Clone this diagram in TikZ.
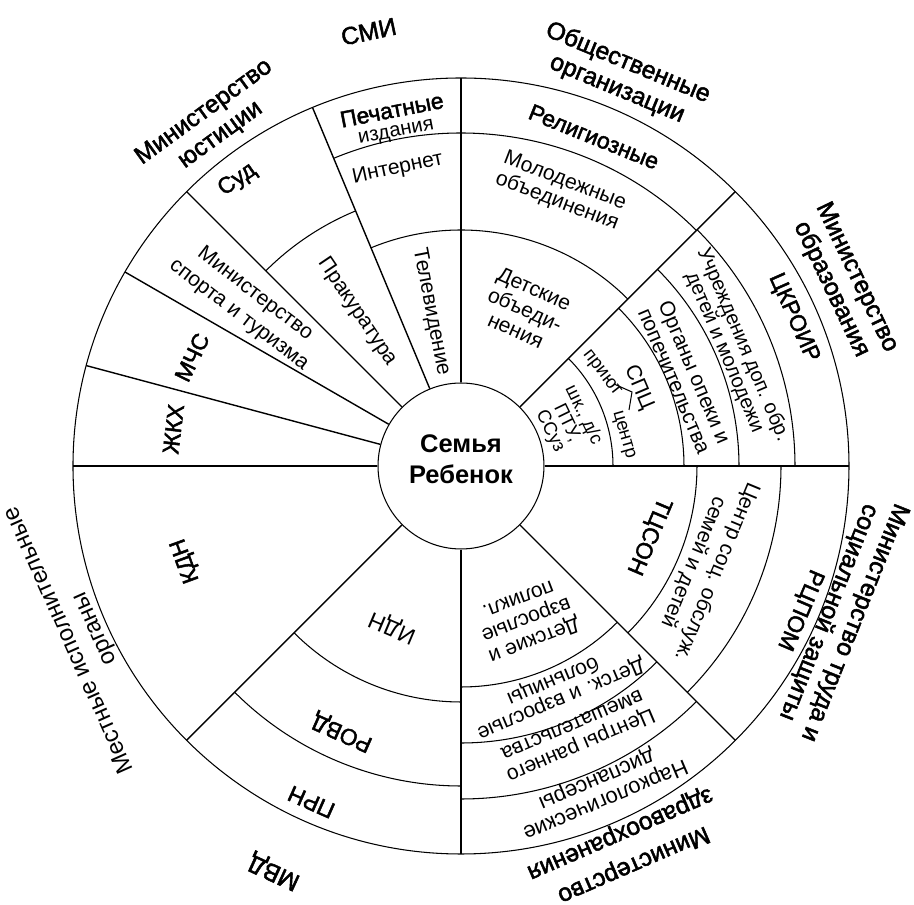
\documentclass[tikz,border=0pt]{standalone}
\usepackage{fontspec}
\setmainfont{Liberation Sans}
\newfontfamily\medfont{Liberation Sans}[FakeBold=2]
\newcommand{\fthin}{\fontsize{12}{12.5}\selectfont}
\newcommand{\fsmall}{\fontsize{10.5}{10.5}\selectfont}
\newcommand{\fmed}{\medfont\fontsize{13}{13.5}\selectfont}
\newcommand{\fouter}{\medfont\fontsize{14}{16}\selectfont}
\newcommand{\fcore}{\bfseries\fontsize{14.5}{17.5}\selectfont}

\begin{document}
\begin{tikzpicture}[x=0.02cm,y=0.02cm,
    lbl/.style={align=center,inner sep=0pt,font=\fthin},
    big/.style={lbl,font=\fmed},
    outer/.style={lbl,font=\fouter},
    tiny/.style={lbl,font=\fsmall},
    spoke/.style={line width=0.8pt},
    ring/.style={line width=0.6pt}]
  \useasboundingbox (-461,-439) rectangle (453,466);

  \node[circle,draw,line width=0.6pt,minimum size=3.32cm,inner sep=0pt] (fam) at (0,0) {};
  \node[lbl,font=\fcore] (famtxt) at (0,7) {Семья\\Ребенок};

  \draw[ring] (0,0) circle[radius=388];

  \draw[spoke] (fam.0) -- (0:388);
  \draw[spoke] (fam.45) -- (45:388);
  \draw[spoke] (fam.90) -- (90:388);
  \draw[spoke] (fam.112.5) -- (112.5:388);
  \draw[spoke] (fam.135) -- (135:388);
  \draw[spoke] (fam.150) -- (150:388);
  \draw[spoke] (fam.165) -- (165:388);
  \draw[spoke] (fam.180) -- (180:388);
  \draw[spoke] (fam.225) -- (225:388);
  \draw[spoke] (fam.270) -- (270:388);
  \draw[spoke] (fam.315) -- (315:388);

  \draw[ring] (45:236) arc[start angle=45,end angle=112.5,radius=236];
  \draw[ring] (45:333) arc[start angle=45,end angle=112.5,radius=333];
  \draw[ring] (112.5:276) arc[start angle=112.5,end angle=135,radius=276];
  \draw[ring] (0:152) arc[start angle=0,end angle=45,radius=152];
  \draw[ring] (0:223) arc[start angle=0,end angle=45,radius=223];
  \draw[ring] (0:278) arc[start angle=0,end angle=45,radius=278];
  \draw[ring] (0:334) arc[start angle=0,end angle=45,radius=334];
  \draw[ring] (225:236) arc[start angle=225,end angle=270,radius=236];
  \draw[ring] (225:320) arc[start angle=225,end angle=270,radius=320];
  \draw[ring] (270:221) arc[start angle=270,end angle=315,radius=221];
  \draw[ring] (270:277) arc[start angle=270,end angle=315,radius=277];
  \draw[ring] (270:333) arc[start angle=270,end angle=315,radius=333];
  \draw[ring] (315:236) arc[start angle=315,end angle=360,radius=236];
  \draw[ring] (315:320) arc[start angle=315,end angle=360,radius=320];

  \node[outer,rotate=12] (smi) at (102:444) {СМИ};
  \node[outer,rotate=36] (yust) at (126:423) {Министерство\\юстиции};
  \node[outer,rotate=-22.5] (obsh) at (67.5:422) {Общественные\\организации};
  \node[outer,rotate=-64.5] (obr) at (25.5:424) {Министерство\\образования};
  \node[outer,rotate=-111.7] (trud) at (338.3:409) {Министерство труда и\\социальной защиты};
  \node[outer,font=\medfont\fontsize{14}{19}\selectfont,rotate=203.5] (zdrav) at (293.4:417) {Министерство\\здравоохранения};
  \node[outer,rotate=155.3] (mvd) at (245.3:446) {МВД};
  \node[lbl,font=\fontsize{13.5}{16}\selectfont,rotate=114] (mestn) at (204:414) {Местные исполнительные\\органы};

  \node[lbl,rotate=-79] (tv) at (101:157) {Телевидение};
  \node[lbl,rotate=12] (inet) at (102:304) {Интернет};
  \node[lbl,font=\fontsize{11.5}{11}\selectfont,rotate=11] (pech) at (101:351) {{\fmed Печатные}\\издания};
  \node[lbl,rotate=-56] (prok) at (124:186) {Пракуратура};
  \node[big,rotate=35] (sud) at (128:363) {Суд};
  \node[lbl,font=\fontsize{12}{15}\selectfont,rotate=-37.5] (sport) at (143:268) {Министерство\\спорта и туризма};
  \node[big,rotate=64] (mchs) at (158:290) {МЧС};
  \node[big,rotate=83] (zhkh) at (172.7:290) {ЖКХ};

  \node[big,rotate=110] (kdn) at (199:291) {КДН};
  \node[lbl,font=\fontsize{13}{15}\selectfont,rotate=157] (idn) at (247:175) {ИДН};
  \node[big,rotate=156] (rovd) at (246:291) {РОВД};
  \node[big,rotate=156] (prn) at (246:368) {ПРН};

  \node[lbl,rotate=201] (polikl) at (293:168) {Детские и\\взрослые\\поликл.};
  \node[lbl,font=\fontsize{12}{11.5}\selectfont,rotate=203] (boln) at (293.2:243) {Детск. и взрослые\\больницы};
  \node[lbl,rotate=203] (rann) at (293.2:294) {Центры раннего\\вмешательства};
  \node[lbl,font=\fontsize{12.5}{12.5}\selectfont,rotate=203] (nark) at (293.4:352) {Наркологические\\диспансеры};

  \node[big,rotate=-113] (tcson) at (339.5:200) {ТЦСОН};
  \node[lbl,font=\fontsize{12}{14.5}\selectfont,rotate=-112.5] (csod) at (337.5:264) {Центр соц. обслуж.\\семей и детей};
  \node[big,rotate=-113] (rcpom) at (337:368) {РЦПОМ};

  \node[big,rotate=-66] (ckroir) at (24:364) {ЦКРОИР};
  \node[lbl,font=\fontsize{11.5}{11.5}\selectfont,rotate=-67] (uchr) at (23.3:297) {Учреждения доп. обр.\\детей и молодежи};
  \node[lbl,rotate=-67] (opeka) at (21.8:241) {Органы опеки и\\попечительства};
  \node[lbl,rotate=-67] (spc) at (23.7:194) {СПЦ};
  \node[tiny,rotate=-52] (priyut) at (33.3:168) {приют};
  \node[tiny,rotate=-74] (centr) at (10.8:165) {центр};
  \node[tiny,rotate=-64] (shk) at (22:114) {шк., д/с\\ПТУ,\\ССуз};
  \coordinate (brtop) at (153,82);
  \coordinate (brmid) at (171,74);
  \coordinate (brbot) at (168,56);
  \draw[ring] (brtop) -- (brmid) -- (brbot);

  \node[big,rotate=-22] (relig) at (68:355) {Религиозные};
  \node[lbl,rotate=-21] (molod) at (70:292) {Молодежные\\объединения};
  \node[lbl,font=\fontsize{12}{13}\selectfont,rotate=-24] (detob) at (67.7:169) {Детские\\объеди-\\нения};
\end{tikzpicture}
\end{document}
